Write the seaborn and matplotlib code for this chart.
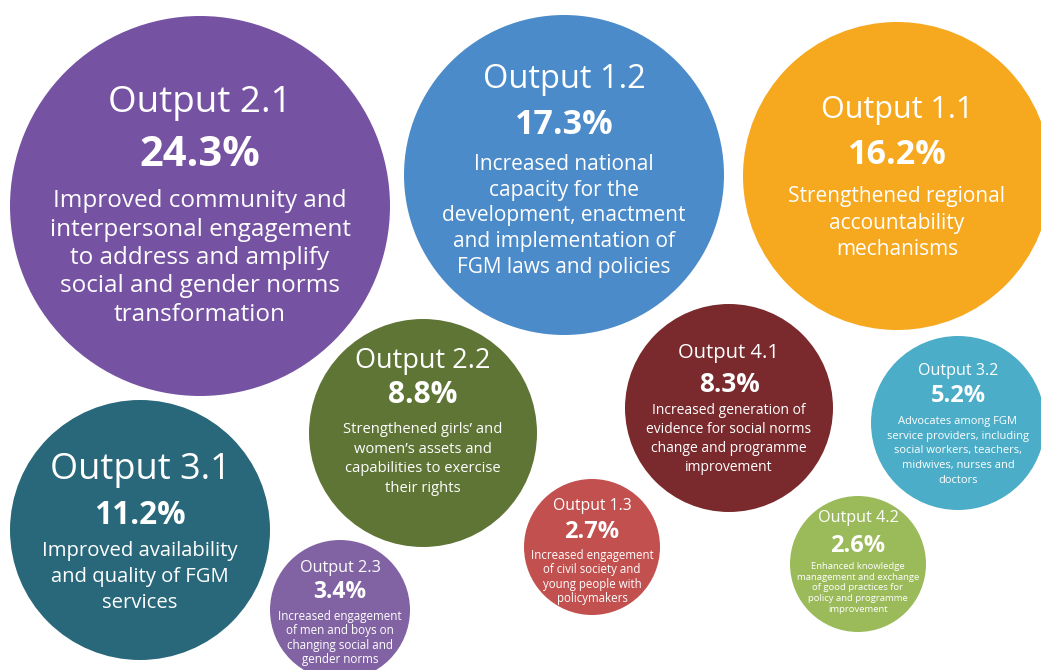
import numpy as np
import pandas as pd
import matplotlib
matplotlib.use("Agg")
import matplotlib.pyplot as plt
import seaborn as sns

sns.set_theme(style="white")
plt.rcParams['font.family'] = ['Open Sans', 'DejaVu Sans']

# Data
outputs = ['Output 2.1', 'Output 1.2', 'Output 1.1', 'Output 2.2', 'Output 4.1',
           'Output 3.2', 'Output 3.1', 'Output 2.3', 'Output 1.3', 'Output 4.2']
shares = [24.3, 17.3, 16.2, 8.8, 8.3, 5.2, 11.2, 3.4, 2.7, 2.6]
descriptions = [
    "Improved community and\ninterpersonal engagement\nto address and amplify\nsocial and gender norms\ntransformation",
    "Increased national\ncapacity for the\ndevelopment, enactment\nand implementation of\nFGM laws and policies",
    "Strengthened regional\naccountability\nmechanisms",
    "Strengthened girls’ and\nwomen’s assets and\ncapabilities to exercise\ntheir rights",
    "Increased generation of\nevidence for social norms\nchange and programme\nimprovement",
    "Advocates among FGM\nservice providers, including\nsocial workers, teachers,\nmidwives, nurses and\ndoctors",
    "Improved availability\nand quality of FGM\nservices",
    "Increased engagement\nof men and boys on\nchanging social and\ngender norms",
    "Increased engagement\nof civil society and\nyoung people with\npolicymakers",
    "Enhanced knowledge\nmanagement and exchange\nof good practices for\npolicy and programme\nimprovement",
]
colors = ['#7652A2', '#4C8BC9', '#F6A81E', '#5F7536', '#7A2A2D',
          '#4BADC7', '#28687A', '#8163A3', '#C1504E', '#9BBB5A']

# Layout (pixel canvas): centre, bubble radius, font sizes, text offsets, line spacing
cx = [200, 564, 897, 423, 729, 958, 140, 340, 592, 858]
cy = [206, 175, 176, 433, 408, 423, 530, 610, 547, 564]
radius_px = [190, 160, 154, 114, 104, 87, 130, 70, 68, 68]
title_fs = [26.5, 23.5, 22, 19.5, 14.5, 11.6, 26, 11.7, 11.3, 11.7]
value_fs = [30, 24.5, 24.5, 21.5, 18.8, 17, 22.7, 16.5, 17, 17]
desc_fs = [17.5, 15, 15, 10.6, 10, 8, 14.6, 8.4, 8.3, 6.8]
title_dy = [-103, -95, -66, -72, -55, -52, -60, -42, -41, -46]
value_dy = [-51, -50, -21, -38, -24, -27, -15, -18, -15, -18]
desc_dy = [52, 41, 47, 26, 31, 28, 47, 28, 30, 24]
line_sp = [1.25, 1.30, 1.37, 1.43, 1.34, 1.44, 1.42, 1.16, 1.11, 1.24]

W, H = 1041, 670
fig = plt.figure(figsize=(W / 100, H / 100), dpi=100)
ax = fig.add_axes([0, 0, 1, 1])

df = pd.DataFrame({'output': outputs, 'share': shares, 'x': cx, 'y': cy})
# marker area in pt^2 (1 px = 0.72 pt at dpi 100)
size_map = dict(zip(outputs, [(2 * r * 0.72) ** 2 for r in radius_px]))

sns.scatterplot(data=df, x='x', y='y', hue='output', size='output',
                palette=dict(zip(outputs, colors)), sizes=size_map,
                linewidth=0, legend=False, ax=ax)

for i, name in enumerate(outputs):
    ax.text(cx[i], cy[i] + title_dy[i], name, color='white', fontsize=title_fs[i],
            ha='center', va='center')
    ax.text(cx[i], cy[i] + value_dy[i], f"{shares[i]}%", color='white',
            fontsize=value_fs[i], fontweight='bold', ha='center', va='center')
    ax.text(cx[i], cy[i] + desc_dy[i], descriptions[i], color='white',
            fontsize=desc_fs[i], ha='center', va='center', linespacing=line_sp[i])

ax.set_xlim(0, W)
ax.set_ylim(H, 0)
ax.axis('off')

fig.savefig('out.png', dpi=100)
